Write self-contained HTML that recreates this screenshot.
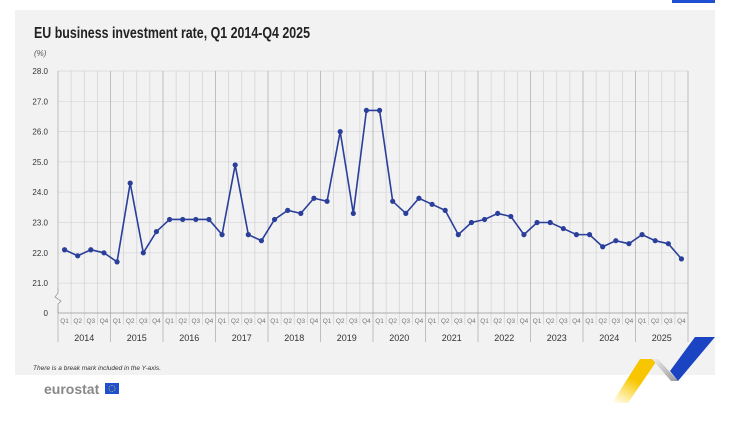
<!DOCTYPE html>
<html><head><meta charset="utf-8"><style>
body{margin:0;background:#fff;width:753px;height:424px;overflow:hidden;font-family:"Liberation Sans",sans-serif}
</style></head><body>
<svg id="s" width="753" height="424" xmlns="http://www.w3.org/2000/svg" font-family="Liberation Sans, sans-serif">
<rect x="672" y="0" width="43" height="3" fill="#1f4fd1"/>
<rect x="15" y="10" width="700" height="365" fill="#f2f2f2"/>
<text x="34" y="38" font-size="16" font-weight="bold" fill="#222" textLength="276" lengthAdjust="spacingAndGlyphs">EU business investment rate, Q1 2014-Q4 2025</text>
<text x="34" y="56" font-size="8" font-style="italic" fill="#555">(%)</text>
<g id="g"></g>
<text x="33" y="370" font-size="6.5" font-style="italic" fill="#333">There is a break mark included in the Y-axis.</text>
<text x="44" y="394" font-size="14" font-weight="bold" fill="#888">eurostat</text>
<rect x="105" y="383" width="14" height="11" fill="#1f4fd1"/>
<circle cx="112" cy="388.5" r="3" fill="none" stroke="#ffd200" stroke-width="0.8" stroke-dasharray="0.8 1"/>
<defs><linearGradient id="yl" x1="0" y1="1" x2="0.6" y2="0"><stop offset="0" stop-color="#ffd200" stop-opacity="0"/><stop offset="0.6" stop-color="#f7c600"/></linearGradient>
<linearGradient id="gr" x1="0" y1="0" x2="1" y2="1"><stop offset="0" stop-color="#eee"/><stop offset="1" stop-color="#999"/></linearGradient></defs>
<polygon points="612,403 640,359 658,359 628,403" fill="url(#yl)"/>
<polygon points="652,359 658,359 678,381 671,381" fill="url(#gr)"/>
<polygon points="670,371 695,337 715,337 678,381" fill="#1a44c2"/>
</svg>
<script>
const d=[22.1,21.9,22.1,22.0,21.7,24.3,22.0,22.7,23.1,23.1,23.1,23.1,22.6,24.9,22.6,22.4,23.1,23.4,23.3,23.8,23.7,26.0,23.3,26.7,26.7,23.7,23.3,23.8,23.6,23.4,22.6,23.0,23.1,23.3,23.2,22.6,23.0,23.0,22.8,22.6,22.6,22.2,22.4,22.3,22.6,22.4,22.3,21.8];
const X0=58,W=13.125,Y=v=>71+(28-v)*30.3;
let h='';
for(let v=21;v<=28;v++){h+=`<line x1="${X0}" x2="688" y1="${Y(v)}" y2="${Y(v)}" stroke="#d8d8d8" stroke-width="0.7"/><text x="48" y="${Y(v)+3}" font-size="8" fill="#333" text-anchor="end">${v}.0</text>`;}
h+=`<text x="48" y="316" font-size="8" fill="#333" text-anchor="end">0</text>`;
for(let i=0;i<=48;i++){const x=X0+i*W,yr=i%4==0;
h+=`<line x1="${x}" x2="${x}" y1="71" y2="${yr?342:325}" stroke="${yr?'#aaa':'#d0d0d0'}" stroke-width="0.7"/>`;
if(i<48)h+=`<text x="${x+W/2}" y="323" font-size="6.5" fill="#777" text-anchor="middle">Q${i%4+1}</text>`;}
for(let y=0;y<12;y++)h+=`<text x="${X0+y*52.5+26.25}" y="341" font-size="9" fill="#333" text-anchor="middle">${2014+y}</text>`;
h+=`<line x1="${X0}" x2="688" y1="313" y2="313" stroke="#999" stroke-width="0.8"/>`;
h+=`<rect x="54" y="288" width="8" height="20" fill="#f2f2f2"/><polyline points="58,288 58,293 55,297 61,301 58,304 58,313" fill="none" stroke="#999" stroke-width="0.8"/>`;
const p=d.map((v,i)=>[X0+W/2+i*W,Y(v)]);
h+=`<polyline points="${p.map(a=>a.join(',')).join(' ')}" fill="none" stroke="#2a3f9a" stroke-width="1.6"/>`;
p.forEach(a=>h+=`<circle cx="${a[0]}" cy="${a[1]}" r="2.6" fill="#2a3f9a"/>`);
document.getElementById('g').innerHTML=h;
</script>
</body></html>
